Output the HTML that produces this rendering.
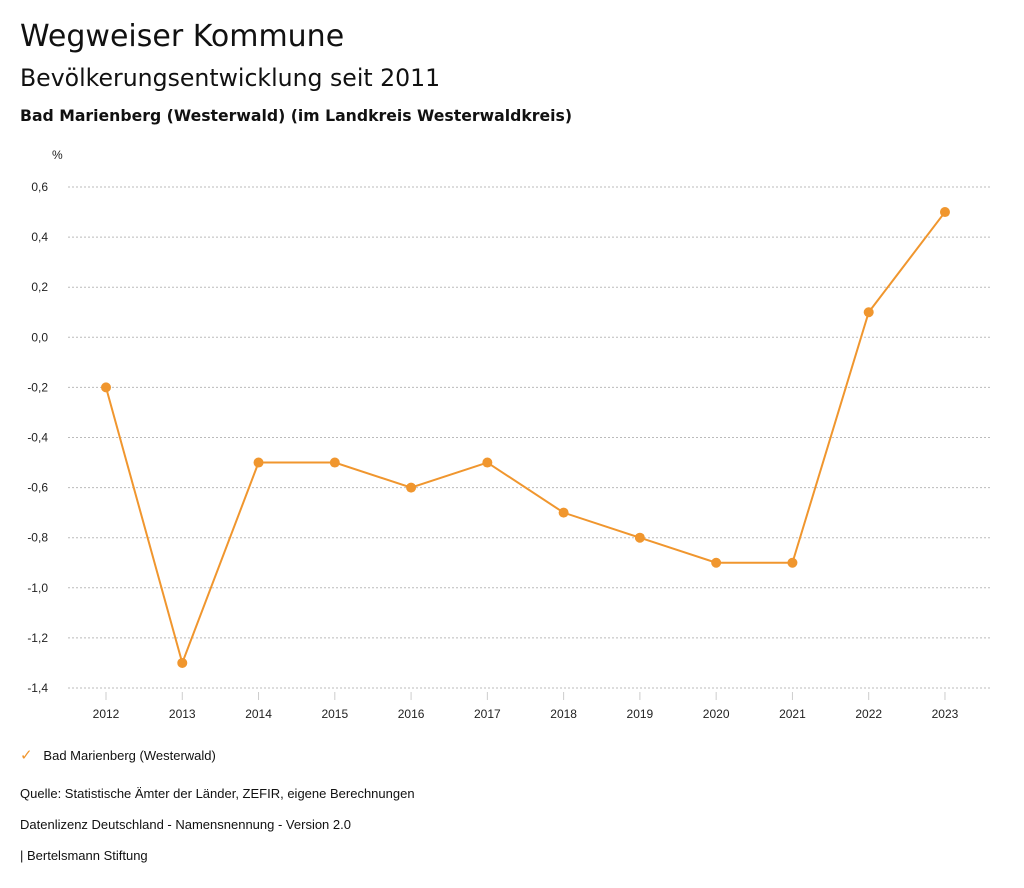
<!DOCTYPE html>
<html><head><meta charset="utf-8"><style>
body{margin:0;width:1024px;height:888px;background:#fff;font-family:"Liberation Sans",sans-serif;color:#111;overflow:hidden;position:relative}
.t{position:absolute;left:20px;white-space:nowrap}
.d{font-family:"DejaVu Sans",sans-serif}
</style></head><body>
<div class="t d" style="top:19px;font-size:30px">Wegweiser Kommune</div>
<div class="t d" style="top:64px;font-size:23.6px">Bevölkerungsentwicklung seit 2011</div>
<div class="t d" style="top:106px;font-size:15.7px;font-weight:bold">Bad Marienberg (Westerwald) (im Landkreis Westerwaldkreis)</div>
<svg id="c" width="1024" height="888" style="position:absolute;left:0;top:0"></svg>
<div class="t" style="top:746px;font-size:13px"><span style="color:#f0962e;font-size:15px">✓</span>&nbsp;&nbsp;&nbsp;Bad Marienberg (Westerwald)</div>
<div class="t" style="top:786px;font-size:13px">Quelle: Statistische Ämter der Länder, ZEFIR, eigene Berechnungen</div>
<div class="t" style="top:817px;font-size:13px">Datenlizenz Deutschland - Namensnennung - Version 2.0</div>
<div class="t" style="top:848px;font-size:13px">| Bertelsmann Stiftung</div>
<script>
const years=["2012","2013","2014","2015","2016","2017","2018","2019","2020","2021","2022","2023"];
const values=[-0.2,-1.3,-0.5,-0.5,-0.6,-0.5,-0.7,-0.8,-0.9,-0.9,0.1,0.5];
const yTicks=[0.6,0.4,0.2,0.0,-0.2,-0.4,-0.6,-0.8,-1.0,-1.2,-1.4];
const svg=document.getElementById('c');const NS='http://www.w3.org/2000/svg';
function y(v){return 337.3-v*250.5;}
function x(i){return 106+i*76.27;}
function mk(t,a){const e=document.createElementNS(NS,t);for(const k in a)e.setAttribute(k,a[k]);svg.appendChild(e);return e;}
let u=mk('text',{x:52,y:159,'font-size':12,fill:'#222'});u.textContent='%';


yTicks.forEach(v=>{
 const l=mk('line',{x1:68,x2:990,y1:y(v),y2:y(v),stroke:'#bbb','stroke-dasharray':'2,2'});
 
 
 const t=mk('text',{x:48,y:y(v)+4,'text-anchor':'end','font-size':12,fill:'#222'});
 t.textContent=v.toFixed(1).replace('.',',').replace('-0,0','0,0');
 
 
});
years.forEach((yr,i)=>{
 const l=mk('line',{x1:x(i),x2:x(i),y1:692,y2:700,stroke:'#ccc'});
 
 
 const t=mk('text',{x:x(i),y:718,'text-anchor':'middle','font-size':12,fill:'#222'});
 t.textContent=yr;
 
 
});
const p=mk('polyline',{points:values.map((v,i)=>x(i)+','+y(v)).join(' '),fill:'none',stroke:'#f0962e','stroke-width':2});


values.forEach((v,i)=>{
 const c=mk('circle',{cx:x(i),cy:y(v),r:5,fill:'#f0962e'});
 
 
});
</script>
</body></html>
